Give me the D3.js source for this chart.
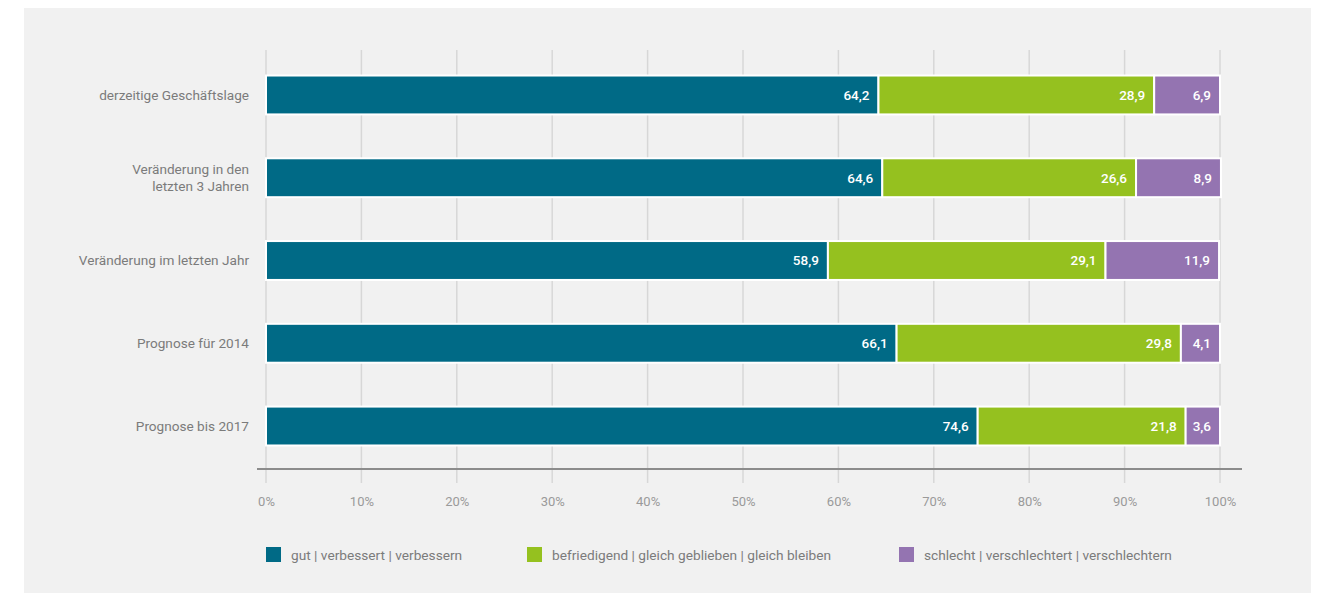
<!DOCTYPE html>
<html><head><meta charset="utf-8">
<script src="https://cdn.jsdelivr.net/npm/d3@7"></script>
<style>
html,body{margin:0;padding:0;background:#fff;}
svg{display:block;font-family:Roboto,"Open Sans",sans-serif;}
</style></head>
<body>
<svg id="chart" width="1320" height="593"></svg>
<script>
const categories = [
  ["derzeitige Geschäftslage"],
  ["Veränderung in den", "letzten 3 Jahren"],
  ["Veränderung im letzten Jahr"],
  ["Prognose für 2014"],
  ["Prognose bis 2017"]
];
const seriesNames = [
  "gut | verbessert | verbessern",
  "befriedigend | gleich geblieben | gleich bleiben",
  "schlecht | verschlechtert | verschlechtern"
];
const gut = [64.2, 64.6, 58.9, 66.1, 74.6];
const befriedigend = [28.9, 26.6, 29.1, 29.8, 21.8];
const schlecht = [6.9, 8.9, 11.9, 4.1, 3.6];
const colors = ["#006a86", "#95c11f", "#9474b1"];
const tickValues = [0,10,20,30,40,50,60,70,80,90,100];

const svg = d3.select("#chart");
svg.append("rect").attr("x",24).attr("y",8).attr("width",1287).attr("height",585).attr("fill","#f1f1f1");

const x = d3.scaleLinear().domain([0,100]).range([266,1220]);
const y = d3.scaleBand().domain(d3.range(categories.length)).range([54,467]).paddingInner(0.53).paddingOuter(0.26);

// gridlines
svg.append("g").selectAll("line").data(tickValues).join("line")
  .attr("x1",d=>x(d)).attr("x2",d=>x(d)).attr("y1",50).attr("y2",483)
  .attr("stroke","#d7d7d7").attr("stroke-width",1.5);

// axis line
svg.append("line").attr("x1",257).attr("x2",1242).attr("y1",469).attr("y2",469)
  .attr("stroke","#8c8c8c").attr("stroke-width",2.2);

// x axis labels via d3 axis
const xAxis = d3.axisBottom(x).tickValues(tickValues).tickFormat(d=>d+"%").tickSize(0).tickPadding(0);
const gx = svg.append("g").attr("transform","translate(0,497)").call(xAxis);
gx.select(".domain").remove();
gx.selectAll("text").attr("fill","#9a9a9a").attr("font-size","13px").attr("font-family","Roboto,sans-serif").attr("dy","0.71em").attr("y",0);

// stacked data
const series = [gut, befriedigend, schlecht];
const rows = categories.map((c,i)=>{
  let acc = 0;
  return series.map((s,k)=>{ const seg={i,k,x0:acc,x1:acc+s[i],v:s[i]}; acc+=s[i]; return seg; });
});
const bw = y.bandwidth();
const g = svg.append("g");
rows.forEach(r=>{
  g.selectAll(null).data(r).join("rect")
    .attr("x",d=>x(d.x0)).attr("width",d=>x(d.x1)-x(d.x0))
    .attr("y",d=>y(d.i)).attr("height",bw)
    .attr("fill",d=>colors[d.k]).attr("stroke","#fff").attr("stroke-width",2);
  g.selectAll(null).data(r).join("text")
    .attr("x",d=>x(d.x1)-9).attr("y",d=>y(d.i)+bw/2).attr("dy","0.36em")
    .attr("text-anchor","end").attr("fill","#fff").attr("font-size","13.5px").attr("font-weight",500)
    .text(d=>d3.format(".1f")(d.v).replace(".",","));
});

// category labels
const cl = svg.append("g");
categories.forEach((lines,i)=>{
  const t = cl.append("text").attr("text-anchor","end").attr("fill","#7b7b7b").attr("font-size","13.6px")
    .attr("y", y(i)+bw/2);
  lines.forEach((ln,j)=>{
    t.append("tspan").attr("x",249)
      .attr("dy", j===0 ? (0.36 - (lines.length-1)*0.6)+"em" : "1.2em").text(ln);
  });
});

// legend
const legX = [266, 527, 899];
const lg = svg.append("g");
seriesNames.forEach((n,k)=>{
  lg.append("rect").attr("x",legX[k]).attr("y",547).attr("width",15).attr("height",15).attr("fill",colors[k]);
  lg.append("text").attr("x",legX[k]+25).attr("y",555).attr("dy","0.36em").attr("fill","#7b7b7b").attr("font-size","13.7px").text(n);
});
</script>
</body></html>
